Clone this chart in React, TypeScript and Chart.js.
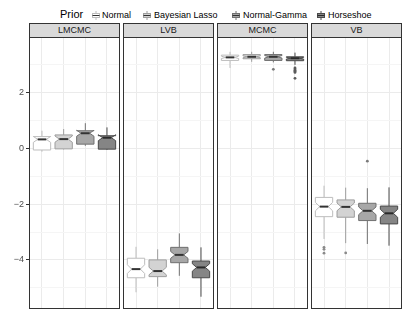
import React, { useEffect, useRef } from "react";
import { Chart, registerables } from "chart.js";

Chart.register(...registerables);

const METHODS = ["LMCMC", "LVB", "MCMC", "VB"];
const PRIORS = ["Normal", "Bayesian Lasso", "Normal-Gamma", "Horseshoe"];

// each row: [lower whisker, Q1, median, Q3, upper whisker], one row per prior
const LMCMC_STATS = [
  [-0.12, -0.06, 0.32, 0.42, 0.63],
  [-0.04, -0.02, 0.33, 0.48, 0.69],
  [0.09, 0.15, 0.54, 0.63, 0.9],
  [-0.06, -0.03, 0.38, 0.45, 0.75],
];
const LVB_STATS = [
  [-5.16, -4.64, -4.33, -3.94, -3.53],
  [-4.96, -4.6, -4.4, -4.0, -3.62],
  [-4.57, -4.1, -3.82, -3.55, -3.05],
  [-5.32, -4.64, -4.27, -4.04, -3.55],
];
const MCMC_STATS = [
  [2.88, 3.15, 3.26, 3.34, 3.46],
  [3.1, 3.21, 3.28, 3.36, 3.46],
  [3.08, 3.15, 3.28, 3.36, 3.46],
  [2.99, 3.14, 3.23, 3.28, 3.43],
];
const VB_STATS = [
  [-3.25, -2.45, -2.09, -1.76, -1.34],
  [-3.4, -2.47, -2.1, -1.85, -1.41],
  [-3.43, -2.59, -2.24, -1.97, -1.43],
  [-3.49, -2.71, -2.33, -2.07, -1.4],
];

// outliers, one list per prior
const LMCMC_OUTLIERS = [[], [], [], []];
const LVB_OUTLIERS = [[], [], [], []];
const MCMC_OUTLIERS = [[], [], [2.83], [2.88, 2.84, 2.8, 2.76, 2.72, 2.51]];
const VB_OUTLIERS = [[-3.55, -3.62, -3.76], [-3.75], [-0.46], []];

const SAMPLE_SIZE = 50;

const Y_MIN = -5.76;
const Y_MAX = 3.99;
const Y_TICKS = [-5, -4, -3, -2, -1, 0, 1, 2, 3];
const Y_LABELED = [-4, -2, 0, 2];

const STATS = [LMCMC_STATS, LVB_STATS, MCMC_STATS, VB_STATS];
const OUTLIERS = [LMCMC_OUTLIERS, LVB_OUTLIERS, MCMC_OUTLIERS, VB_OUTLIERS];

const FILLS = ["#ffffff", "#d3d3d3", "#a7a7a7", "#858585"];
const LINES = ["#bdbdbd", "#9e9e9e", "#707070", "#4a4a4a"];
const MEDIANS = ["#333333", "#333333", "#333333", "#2a2a2a"];
const OUTLIER_COLORS = ["#8a8a8a", "#8a8a8a", "#7a7a7a", "#5a5a5a"];

const FONT = "'Liberation Sans', Arial, Helvetica, sans-serif";

// facet geometry in x-units: each panel spans 4.2 units (0.6 expansion each side)
const PANEL_SPAN = 4.2;
const PANEL_GAP = 0.14;
const X_MAX = METHODS.length * PANEL_SPAN + (METHODS.length - 1) * PANEL_GAP;
const panelStart = (p: number) => p * (PANEL_SPAN + PANEL_GAP);
const catX = (p: number, c: number) => panelStart(p) + 0.6 + c;

// page layout (pixels)
const CANVAS_TOP = 37;
const CANVAS_H = 272;
const CANVAS_W = 407;
const AXIS_W = 29;
const RIGHT_PAD = 5;
const STRIP_TOP = 23;

const facetPlugin = {
  id: "facets",
  beforeDatasetsDraw(chart: any) {
    const xs = chart.scales.x;
    const ys = chart.scales.y;
    const a = chart.chartArea;
    const ctx = chart.ctx;
    ctx.save();
    // white gaps between panels
    ctx.fillStyle = "#ffffff";
    for (let p = 0; p < METHODS.length - 1; p++) {
      const g0 = xs.getPixelForValue(panelStart(p) + PANEL_SPAN);
      const g1 = xs.getPixelForValue(panelStart(p + 1));
      ctx.fillRect(g0, a.top, g1 - g0, a.bottom - a.top);
    }
    // boxes
    STATS.forEach((panel, p) => {
      panel.forEach((s, i) => {
        const [lo, q1, med, q3, hi] = s;
        const xc = xs.getPixelForValue(catX(p, i));
        const xmin = xs.getPixelForValue(catX(p, i) - 0.4);
        const xmax = xs.getPixelForValue(catX(p, i) + 0.4);
        const notch = (1.58 * (q3 - q1)) / Math.sqrt(SAMPLE_SIZE);
        const indent = (xmax - xmin) * 0.25;
        const yq1 = ys.getPixelForValue(q1);
        const yq3 = ys.getPixelForValue(q3);
        const ym = ys.getPixelForValue(med);
        const ynu = ys.getPixelForValue(med + notch);
        const ynl = ys.getPixelForValue(med - notch);
        ctx.lineWidth = 1;
        ctx.strokeStyle = LINES[i];
        ctx.beginPath();
        ctx.moveTo(xc, yq3);
        ctx.lineTo(xc, ys.getPixelForValue(hi));
        ctx.moveTo(xc, yq1);
        ctx.lineTo(xc, ys.getPixelForValue(lo));
        ctx.stroke();
        ctx.beginPath();
        ctx.moveTo(xmin, yq3);
        ctx.lineTo(xmin, ynu);
        ctx.lineTo(xmin + indent, ym);
        ctx.lineTo(xmin, ynl);
        ctx.lineTo(xmin, yq1);
        ctx.lineTo(xmax, yq1);
        ctx.lineTo(xmax, ynl);
        ctx.lineTo(xmax - indent, ym);
        ctx.lineTo(xmax, ynu);
        ctx.lineTo(xmax, yq3);
        ctx.closePath();
        ctx.fillStyle = FILLS[i];
        ctx.fill();
        ctx.stroke();
        ctx.beginPath();
        ctx.lineWidth = 2;
        ctx.strokeStyle = MEDIANS[i];
        ctx.moveTo(xmin + indent, ym);
        ctx.lineTo(xmax - indent, ym);
        ctx.stroke();
      });
    });
    ctx.restore();
  },
  afterDatasetsDraw(chart: any) {
    const xs = chart.scales.x;
    const a = chart.chartArea;
    const ctx = chart.ctx;
    ctx.save();
    ctx.strokeStyle = "#333333";
    ctx.lineWidth = 1;
    for (let p = 0; p < METHODS.length; p++) {
      const l = Math.round(xs.getPixelForValue(panelStart(p)));
      const r = Math.round(xs.getPixelForValue(panelStart(p) + PANEL_SPAN));
      ctx.strokeRect(l + 0.5, Math.round(a.top) + 0.5, r - l - 1, Math.round(a.bottom - a.top) - 1);
    }
    ctx.restore();
  },
};

function fmt(v: number) {
  return v < 0 ? "\u2212" + Math.abs(v) : String(v);
}

function FacetChart() {
  const ref = useRef<HTMLCanvasElement>(null);
  useEffect(() => {
    if (!ref.current) return;
    const points: { x: number; y: number }[] = [];
    const colors: string[] = [];
    OUTLIERS.forEach((panel, p) => {
      panel.forEach((arr, i) => {
        arr.forEach((v) => {
          points.push({ x: catX(p, i), y: v });
          colors.push(OUTLIER_COLORS[i]);
        });
      });
    });
    const xTicks: number[] = [];
    METHODS.forEach((_, p) => PRIORS.forEach((_, i) => xTicks.push(catX(p, i))));
    const chart = new Chart(ref.current, {
      type: "scatter",
      data: {
        datasets: [
          {
            data: points,
            pointRadius: 1.4,
            pointBorderWidth: 0,
            borderWidth: 0,
            pointBackgroundColor: colors,
            pointBorderColor: colors,
          },
        ],
      },
      options: {
        animation: false,
        responsive: false,
        maintainAspectRatio: false,
        devicePixelRatio: 1,
        layout: { padding: { left: 0, top: 0, bottom: 0, right: RIGHT_PAD }, autoPadding: false },
        plugins: {
          legend: { display: false },
          tooltip: { enabled: false },
        },
        scales: {
          x: {
            type: "linear",
            min: 0,
            max: X_MAX,
            afterBuildTicks: (s: any) => {
              s.ticks = xTicks.map((v) => ({ value: v }));
            },
            ticks: { display: false },
            grid: { color: "#ebebeb", lineWidth: 1, drawTicks: false },
            border: { display: false },
            afterFit: (s: any) => {
              s.height = 0;
              s.paddingLeft = 0;
              s.paddingRight = 0;
              s.paddingTop = 0;
              s.paddingBottom = 0;
            },
          },
          y: {
            type: "linear",
            min: Y_MIN,
            max: Y_MAX,
            afterBuildTicks: (s: any) => {
              s.ticks = Y_TICKS.map((v) => ({ value: v }));
            },
            ticks: {
              padding: 2,
              color: "#4d4d4d",
              font: { family: FONT, size: 9 },
              callback: (v: any) => (Y_LABELED.includes(Number(v)) ? fmt(Number(v)) : ""),
            },
            grid: {
              color: (c: any) =>
                c.tick && Y_LABELED.includes(c.tick.value) ? "#ebebeb" : "#f5f5f5",
              lineWidth: 1,
              drawTicks: true,
              tickLength: 3,
              tickColor: (c: any) =>
                c.tick && Y_LABELED.includes(c.tick.value) ? "#333333" : "rgba(0,0,0,0)",
            },
            border: { display: false },
            afterFit: (s: any) => {
              s.width = AXIS_W;
              s.paddingTop = 0;
              s.paddingBottom = 0;
              s.paddingLeft = 0;
              s.paddingRight = 0;
            },
          },
        },
      },
      plugins: [facetPlugin],
    } as any);
    return () => chart.destroy();
  }, []);
  return (
    <canvas
      ref={ref}
      width={CANVAS_W}
      height={CANVAS_H}
      style={{ position: "absolute", left: 0, top: CANVAS_TOP, width: CANVAS_W, height: CANVAS_H }}
    />
  );
}

function Glyph({ i }: { i: number }) {
  return (
    <svg width={8} height={9} style={{ display: "block" }}>
      <line x1={4} y1={0} x2={4} y2={9} stroke={LINES[i]} strokeWidth={1} />
      <rect x={0.5} y={2.5} width={7} height={4} fill={FILLS[i]} stroke={LINES[i]} strokeWidth={1} />
      <line x1={0.5} y1={4.5} x2={7.5} y2={4.5} stroke={MEDIANS[i]} strokeWidth={1} />
    </svg>
  );
}

const LEGEND_GLYPH_X = [92, 143, 232, 317];
const LEGEND_TEXT_X = [102, 154, 243, 328];

// strip pixel extents (match the chart's x mapping: 29 .. 402 over X_MAX units)
const PX_PER_UNIT = (CANVAS_W - RIGHT_PAD - AXIS_W) / X_MAX;
const stripLeft = (p: number) => Math.round(AXIS_W + panelStart(p) * PX_PER_UNIT);
const stripRight = (p: number) => Math.round(AXIS_W + (panelStart(p) + PANEL_SPAN) * PX_PER_UNIT);

export default function App() {
  return (
    <div
      style={{
        position: "absolute",
        left: 0,
        top: 0,
        width: 407,
        height: 326,
        background: "#ffffff",
        fontFamily: FONT,
        overflow: "hidden",
      }}
    >
      <div
        style={{
          position: "absolute",
          left: 60,
          top: 8,
          fontSize: 11,
          lineHeight: "13px",
          color: "#000",
        }}
      >
        Prior
      </div>
      {PRIORS.map((p, i) => (
        <React.Fragment key={p}>
          <div style={{ position: "absolute", left: LEGEND_GLYPH_X[i], top: 11 }}>
            <Glyph i={i} />
          </div>
          <div
            style={{
              position: "absolute",
              left: LEGEND_TEXT_X[i],
              top: 9,
              fontSize: 9,
              lineHeight: "12px",
              color: "#000",
              whiteSpace: "nowrap",
            }}
          >
            {p}
          </div>
        </React.Fragment>
      ))}
      {METHODS.map((m, i) => (
        <div
          key={m}
          style={{
            position: "absolute",
            left: stripLeft(i),
            top: STRIP_TOP,
            width: stripRight(i) - stripLeft(i),
            height: CANVAS_TOP - STRIP_TOP + 1,
            boxSizing: "border-box",
            background: "#d9d9d9",
            border: "1px solid #333333",
            fontSize: 9,
            lineHeight: CANVAS_TOP - STRIP_TOP - 1 + "px",
            textAlign: "center",
            color: "#1a1a1a",
          }}
        >
          {m}
        </div>
      ))}
      <FacetChart />
    </div>
  );
}
